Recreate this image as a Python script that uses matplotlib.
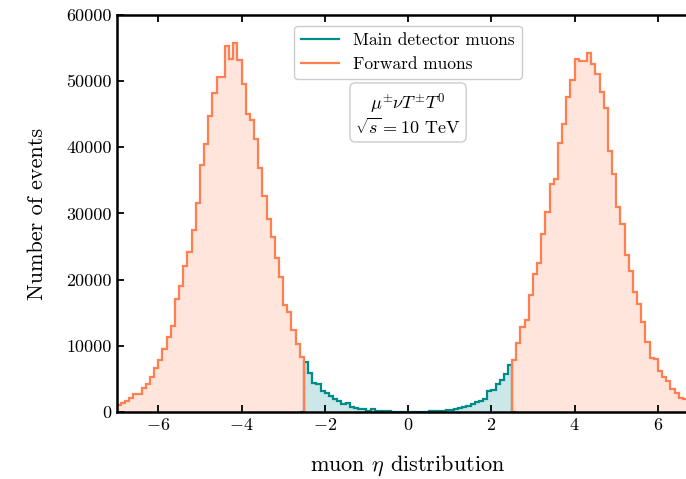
import numpy as np
import matplotlib
matplotlib.use("Agg")
from matplotlib import pyplot as plt

plt.rcParams["font.family"] = "serif"
plt.rcParams["font.serif"] = ["cmr10"]
plt.rcParams["mathtext.fontset"] = "cm"
plt.rcParams["axes.formatter.use_mathtext"] = True

# bin edges (width 0.1)
bordes_fwd_izq = np.round(np.arange(-7.0, -2.45, 0.1), 2)   # -7.0 ... -2.5
bordes_fwd_der = np.round(np.arange(2.5, 7.05, 0.1), 2)     # 2.5 ... 7.0
bordes_main = np.round(np.arange(-2.6, 2.65, 0.1), 2)       # -2.6 ... 2.6

# forward muons, eta < -2.5
fwd_izq = [1060, 1310, 1710, 2060, 2670, 2670, 3570, 4180, 5330, 6590,
           7850, 9460, 11270, 13030, 17100, 19010, 22130, 24250, 27560, 31590,
           37320, 40490, 44670, 48190, 50600, 50700, 55380, 53370, 55730, 53220,
           49600, 45070, 44060, 41300, 36920, 32590, 29220, 26460, 23340, 20420,
           16150, 15140, 12370, 10210, 8350]

# forward muons, eta > 2.5
fwd_der = [7850, 10360, 12880, 13880, 17650, 20820, 22530, 26960, 30230, 34400,
           35260, 40640, 43560, 47680, 50100, 53370, 53120, 53020, 54220, 52610,
           51100, 48340, 45970, 39430, 36010, 30980, 28470, 23690, 21330, 18160,
           16300, 13530, 10610, 8100, 8000, 6240, 5330, 4730, 3420, 2820,
           2060, 1910, 1500, 1200, 1000]

# main detector muons, -2.6 < eta < 2.6
main = [0, 7550, 5940, 4330, 4230, 3220, 2820, 2470, 1910, 1660,
        1160, 1410, 700, 600, 500, 400, 200, 400, 150, 150,
        100, 80, 60, 50, 40, 30, 30, 30, 40, 50,
        60, 80, 100, 150, 200, 300, 300, 400, 550, 700,
        960, 1160, 1560, 1710, 1910, 3200, 3320, 4180, 4830, 5680,
        7090, 0]

c_main = "#008b8b"
c_fwd = "#ff7f50"

fig = plt.figure(figsize=(6.86, 4.79), dpi=100)
ax = fig.add_axes([0.170, 0.1399, 0.8497, 0.8288])

ax.stairs(main, bordes_main, fill=True, color=c_main, alpha=0.2, lw=0)
ax.stairs(main, bordes_main, color=c_main, lw=1.6, label="Main detector muons")

ax.stairs(fwd_izq, bordes_fwd_izq, fill=True, color=c_fwd, alpha=0.2, lw=0)
ax.stairs(fwd_der, bordes_fwd_der, fill=True, color=c_fwd, alpha=0.2, lw=0)
ax.stairs(fwd_izq, bordes_fwd_izq, color=c_fwd, lw=1.6, label="Forward muons")
ax.stairs(fwd_der, bordes_fwd_der, color=c_fwd, lw=1.6)

ax.set_xlim(-7, 7)
ax.set_ylim(0, 60000)
ax.set_xticks([-6, -4, -2, 0, 2, 4, 6])
ax.set_yticks([0, 10000, 20000, 30000, 40000, 50000, 60000])
ax.set_yticklabels(["0", "10000", "20000", "30000", "40000", "50000", "60000"])

ax.tick_params(direction="in", top=True, right=True, labelsize=13, length=5, width=1.3)
for s in ax.spines.values():
    s.set_linewidth(1.8)

ax.set_xlabel(r"muon $\eta$ distribution", fontsize=16, labelpad=15)
ax.set_ylabel("Number of events", fontsize=16, labelpad=14)

ax.legend(loc="upper center", fontsize=12.5, framealpha=1, edgecolor="#cccccc",
          bbox_to_anchor=(0.5, 0.995), handlelength=2.2)

ax.text(0, 45000, r"$\mu^{\pm}\nu T^{\pm}T^0$" + "\n" + r"$\sqrt{s}=10$ TeV",
        ha="center", va="center", fontsize=13, linespacing=1.0,
        bbox=dict(boxstyle="round,pad=0.3", fc="white", ec="#cccccc"))

plt.savefig("out.png", dpi=100)
